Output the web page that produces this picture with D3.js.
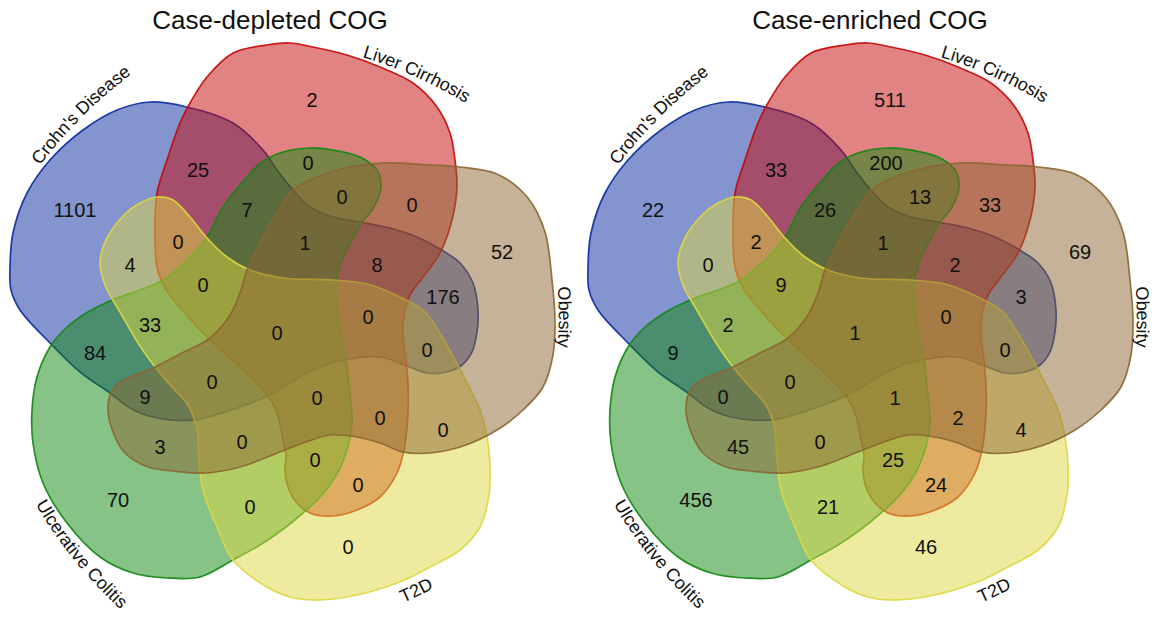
<!DOCTYPE html>
<html>
<head>
<meta charset="utf-8">
<script src="https://cdn.jsdelivr.net/npm/d3@7"></script>
<style>
  body { margin: 0; background: #fff; }
  svg { display: block; }
  text { font-family: "Liberation Sans", Arial, Helvetica, sans-serif; fill: #111; }
</style>
</head>
<body>
<svg id="chart" width="1158" height="619"></svg>
<script>
// ---- data -------------------------------------------------------------
const setKeys  = ["C", "L", "O", "T", "U"];
const setNames = ["Crohn's Disease", "Liver Cirrhosis", "Obesity", "T2D", "Ulcerative Colitis"];
const panelTitles = ["Case-depleted COG", "Case-enriched COG"];

// every intersection, named by the sets it belongs to
const regionKeys = ["C","L","CL","LU","CLU","LOU","LO","O","CT","CLT","CLOU","CLO","CO",
                    "CLTU","CTU","CLOTU","CLOT","COT","CU","COTU","COU","LOTU","LOT",
                    "OU","OTU","OT","LTU","LT","U","TU","T"];
const depletedCounts = [1101, 2, 25, 0, 7, 0, 0, 52, 4, 0, 1, 8, 176,
                        0, 33, 0, 0, 0, 84, 0, 9, 0, 0,
                        3, 0, 0, 0, 0, 70, 0, 0];
const enrichedCounts = [22, 511, 33, 200, 26, 13, 33, 69, 0, 2, 1, 2, 3,
                        9, 2, 1, 0, 0, 9, 0, 0, 1, 2,
                        45, 0, 4, 25, 24, 456, 21, 46];

// ---- layout (diagram units, one panel) ---------------------------------
const outlines = {
  C: [[20,310],[11,290],[10,267],[13,233],[27,193],[50,160],[83,130],[117,110],[150,102],[187,107],
      [233,123],[263,150],[277,170],[293,190],[310,207],[333,217],[360,222],[390,228],[417,237],
      [440,249],[460,263],[473,283],[478,310],[477,332],[472,352],[462,365],[447,372],[427,373],
      [407,366],[380,357],[343,360],[313,370],[290,383],[270,395],[240,407],[193,420],[153,417],
      [130,408],[110,393],[80,372],[50,343]],
  L: [[157,193],[167,160],[180,123],[190,103],[207,77],[233,53],[267,45],[290,43],[313,47],[347,55],
      [380,67],[413,83],[437,107],[450,133],[455,160],[457,187],[452,220],[440,253],[423,277],
      [410,295],[404,315],[403,335],[406,360],[408,385],[408,413],[404,450],[397,473],[380,497],
      [357,510],[333,516],[310,513],[297,503],[288,487],[285,470],[286,455],[283,440],[277,413],
      [268,396],[240,367],[210,340],[183,311],[165,288],[157,267],[155,233]],
  U: [[262,162],[283,152],[310,148],[333,150],[360,157],[377,170],[381,187],[374,207],[361,224],
      [350,243],[341,263],[336,285],[337,310],[341,335],[346,360],[350,395],[352,423],[348,447],
      [338,472],[321,496],[303,513],[282,530],[260,545],[233,560],[200,577],[167,578],[133,573],
      [100,557],[67,523],[43,483],[33,443],[32,410],[37,377],[50,347],[66,328],[88,312],[117,298],
      [140,290],[163,280],[190,257],[207,237],[223,207],[247,177]],
  T: [[140,203],[157,197],[173,200],[190,217],[207,238],[227,257],[250,270],[283,278],[333,280],
      [367,284],[400,297],[425,312],[441,335],[455,360],[468,385],[480,410],[487,437],[490,465],
      [489,495],[480,527],[460,550],[430,567],[397,583],[347,597],[313,600],[290,597],[267,587],
      [233,560],[217,527],[203,490],[199,460],[197,430],[188,405],[173,388],[155,367],[138,343],
      [120,312],[105,285],[100,262],[107,238],[124,215]],
  O: [[247,270],[263,237],[277,213],[293,190],[317,177],[350,167],[383,163],[430,165],[460,167],
      [497,174],[528,198],[545,232],[552,280],[555,320],[553,355],[543,387],[523,410],[497,430],
      [463,446],[430,453],[403,452],[380,443],[357,437],[330,435],[303,443],[285,450],[260,460],
      [240,467],[207,473],[173,471],[148,467],[125,453],[113,432],[108,410],[111,393],[122,381],
      [153,368],[180,354],[210,338],[230,315],[240,293]]
};
const drawOrder = ["C", "L", "U", "T", "O"];
const setColors = { C: "#0a2a9e", L: "#c30808", U: "#0f870f", T: "#ddd741", O: "#8b6531" };

const regionAnchor = {
  C:[75,210], L:[312,100], CL:[198,170], LU:[308,163], CLU:[247,210], LOU:[342,197], LO:[412,205],
  O:[502,252], CT:[130,265], CLT:[178,242], CLOU:[305,243], CLO:[377,265], CO:[443,297],
  CLTU:[203,285], CTU:[150,325], CLOTU:[277,333], CLOT:[368,317], COT:[427,350], CU:[95,353],
  COTU:[212,382], COU:[145,397], LOTU:[317,398], LOT:[380,418], OU:[160,447], OTU:[242,442],
  OT:[443,430], LTU:[315,460], LT:[358,485], U:[118,500], TU:[250,507], T:[348,547]
};
// set name placement: centre point, tangent angle, side the text bends toward
const setLabelLayout = {
  C: { x: 78,  y: 112, angle: -45, bend: 1 },
  L: { x: 418, y: 71,  angle: 24,  bend: 1 },
  O: { x: 565, y: 317, angle: 90,  bend: 1 },
  T: { x: 416, y: 590, angle: -26, bend: -1 },
  U: { x: 79,  y: 556, angle: 51,  bend: -1 }
};
const panels = [
  { offset: 0,   titleX: 270, counts: depletedCounts },
  { offset: 578, titleX: 870, counts: enrichedCounts }
];

// ---- drawing ------------------------------------------------------------
const svg = d3.select("#chart");
const defs = svg.append("defs");
const arcRadius = 450, arcHalf = 170;

panels.forEach((panel, p) => {
  const x = d3.scaleLinear().domain([0, 570]).range([panel.offset, panel.offset + 570]);
  const y = d3.scaleLinear().domain([0, 619]).range([0, 619]);
  const outline = d3.line().x(d => x(d[0])).y(d => y(d[1]))
                    .curve(d3.curveCatmullRomClosed.alpha(0.5));
  const g = svg.append("g").attr("class", "panel");

  g.append("text")
    .attr("x", panel.titleX).attr("y", 29)
    .attr("text-anchor", "middle")
    .style("font-size", "26px")
    .text(panelTitles[p]);

  g.append("g").selectAll("path")
    .data(drawOrder)
    .join("path")
    .attr("d", k => outline(outlines[k]))
    .attr("fill", k => setColors[k])
    .attr("fill-opacity", 0.5)
    .attr("stroke", k => setColors[k])
    .attr("stroke-width", 1.7)
    .attr("stroke-opacity", 0.9);

  // set names written along gentle arcs
  setKeys.forEach((k, i) => {
    const lay = setLabelLayout[k];
    const sag = arcRadius - Math.sqrt(arcRadius * arcRadius - arcHalf * arcHalf);
    const yEnd = lay.bend > 0 ? sag : -sag;
    const id = `arc-${p}-${k}`;
    defs.append("path").attr("id", id)
      .attr("d", `M${-arcHalf},${yEnd} A${arcRadius},${arcRadius} 0 0 ${lay.bend > 0 ? 1 : 0} ${arcHalf},${yEnd}`);
    g.append("g")
      .attr("transform", `translate(${x(lay.x)},${y(lay.y)}) rotate(${lay.angle})`)
      .append("text")
      .attr("dy", "0.35em")
      .style("font-size", "18px")
      .append("textPath")
      .attr("href", `#${id}`)
      .attr("startOffset", "50%")
      .attr("text-anchor", "middle")
      .text(setNames[i]);
  });

  g.append("g").selectAll("text")
    .data(regionKeys.map((k, i) => ({ key: k, value: panel.counts[i] })))
    .join("text")
    .attr("x", d => x(regionAnchor[d.key][0]))
    .attr("y", d => y(regionAnchor[d.key][1]))
    .attr("dy", "0.35em")
    .attr("text-anchor", "middle")
    .style("font-size", "20px")
    .text(d => d.value);
});
</script>
</body>
</html>
